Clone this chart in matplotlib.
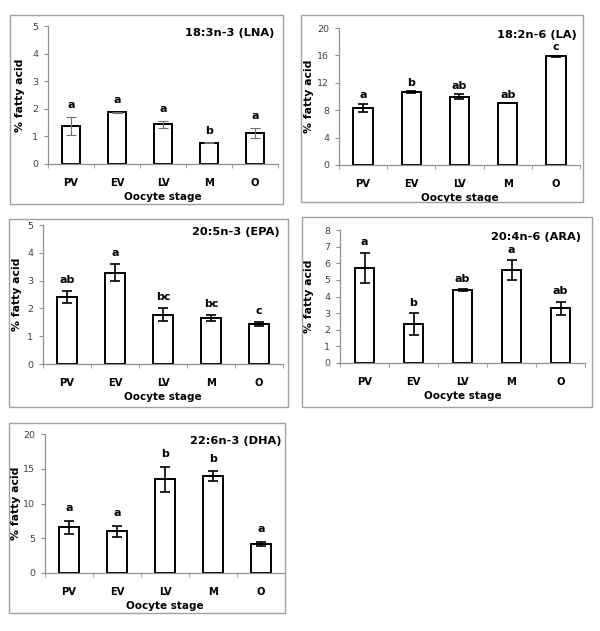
import matplotlib
matplotlib.use("Agg")
import matplotlib.pyplot as plt
from matplotlib.patches import Rectangle

plt.rcParams['font.family'] = ['DejaVu Sans']

stages = ["PV", "EV", "LV", "M", "O"]

lna_mean = [1.38, 1.87, 1.44, 0.77, 1.14]
lna_err = [0.34, 0.01, 0.13, 0.01, 0.18]
lna_sig = ["a", "a", "a", "b", "a"]

la_mean = [8.34, 10.65, 9.98, 9.06, 15.86]
la_err = [0.62, 0.10, 0.38, 0.02, 0.10]
la_sig = ["a", "b", "ab", "ab", "c"]

epa_mean = [2.41, 3.28, 1.78, 1.66, 1.45]
epa_err = [0.20, 0.31, 0.24, 0.11, 0.07]
epa_sig = ["ab", "a", "bc", "bc", "c"]

ara_mean = [5.73, 2.33, 4.38, 5.57, 3.28]
ara_err = [0.90, 0.66, 0.05, 0.60, 0.40]
ara_sig = ["a", "b", "ab", "a", "ab"]

dha_mean = [6.60, 6.03, 13.50, 13.97, 4.16]
dha_err = [0.95, 0.80, 1.80, 0.70, 0.30]
dha_sig = ["a", "a", "b", "b", "a"]

W, H = 600, 631
fig = plt.figure(figsize=(W / 100, H / 100), dpi=100)


def fig_rect(x0, y0, x1, y1):
    return [x0 / W, 1 - y1 / H, (x1 - x0) / W, (y1 - y0) / H]


def panel(border, axbox, title, mean, err, sig, ymax, ystep, ecolor, elw,
          letter_off, ylab_x):
    bx0, by0, bx1, by1 = border
    fig.patches.append(Rectangle((bx0 / W, 1 - by1 / H), (bx1 - bx0) / W,
                                 (by1 - by0) / H, transform=fig.transFigure,
                                 fill=False, edgecolor="#a0a0a0", lw=1.0))
    ax = fig.add_axes(fig_rect(*axbox))
    x = list(range(len(stages)))
    ax.bar(x, mean, width=0.4, color="white", edgecolor="black", lw=1.4,
           zorder=2)
    ax.errorbar(x, mean, yerr=err, fmt="none", ecolor=ecolor, elinewidth=elw,
                capsize=3.5, capthick=elw, zorder=3)
    for xi, m, e, s in zip(x, mean, err, sig):
        ax.text(xi, m + e + letter_off * ymax, s, ha="center", va="center",
                fontsize=8, fontweight="bold")
    ax.set_xlim(-0.5, len(stages) - 0.5)
    ax.set_ylim(0, ymax)
    yt = [i * ystep for i in range(int(round(ymax / ystep)) + 1)]
    ax.set_yticks(yt)
    ax.set_yticklabels([str(int(v)) for v in yt])
    ax.set_xticks(x)
    ax.set_xticklabels(stages, fontsize=7.2, fontweight="bold")
    ax.set_xticks([i - 0.5 for i in range(len(stages) + 1)], minor=True)
    ax.tick_params(axis="x", which="major", length=0, pad=10)
    ax.tick_params(axis="x", which="minor", length=3, color="#909090",
                   direction="out")
    ax.tick_params(axis="y", length=3, color="#909090", pad=4,
                   labelsize=6.8, labelcolor="#404040")
    for sp in ["top", "right"]:
        ax.spines[sp].set_visible(False)
    for sp in ["left", "bottom"]:
        ax.spines[sp].set_color("#909090")
        ax.spines[sp].set_linewidth(0.9)
    ax.set_xlabel("Oocyte stage", fontsize=7.5, fontweight="bold", labelpad=3)
    ax.set_ylabel("% fatty acid", fontsize=7.8, fontweight="bold")
    ax.yaxis.set_label_coords(ylab_x, 0.5)
    ax.text(0.985, 0.985, title, transform=ax.transAxes, ha="right", va="top",
            fontsize=8.2, fontweight="bold")
    return ax


panel((10, 15, 283, 204), (48, 26, 278, 164), "18:3n-3 (LNA)",
      lna_mean, lna_err, lna_sig, 5, 1, "#707070", 0.8, 0.085, -0.10)
panel((301, 15, 583, 202), (339, 28, 580, 165), "18:2n-6 (LA)",
      la_mean, la_err, la_sig, 20, 4, "black", 1.2, 0.06, -0.104)
panel((9, 219, 288, 407), (43, 225, 283, 364), "20:5n-3 (EPA)",
      epa_mean, epa_err, epa_sig, 5, 1, "black", 1.2, 0.08, -0.088)
panel((302, 217, 592, 407), (340, 230, 585, 363), "20:4n-6 (ARA)",
      ara_mean, ara_err, ara_sig, 8, 1, "black", 1.2, 0.08, -0.106)
panel((9, 423, 285, 613), (45, 434, 285, 573), "22:6n-3 (DHA)",
      dha_mean, dha_err, dha_sig, 20, 5, "black", 1.2, 0.09, -0.10)

fig.savefig("out.png", dpi=100, facecolor="white")
